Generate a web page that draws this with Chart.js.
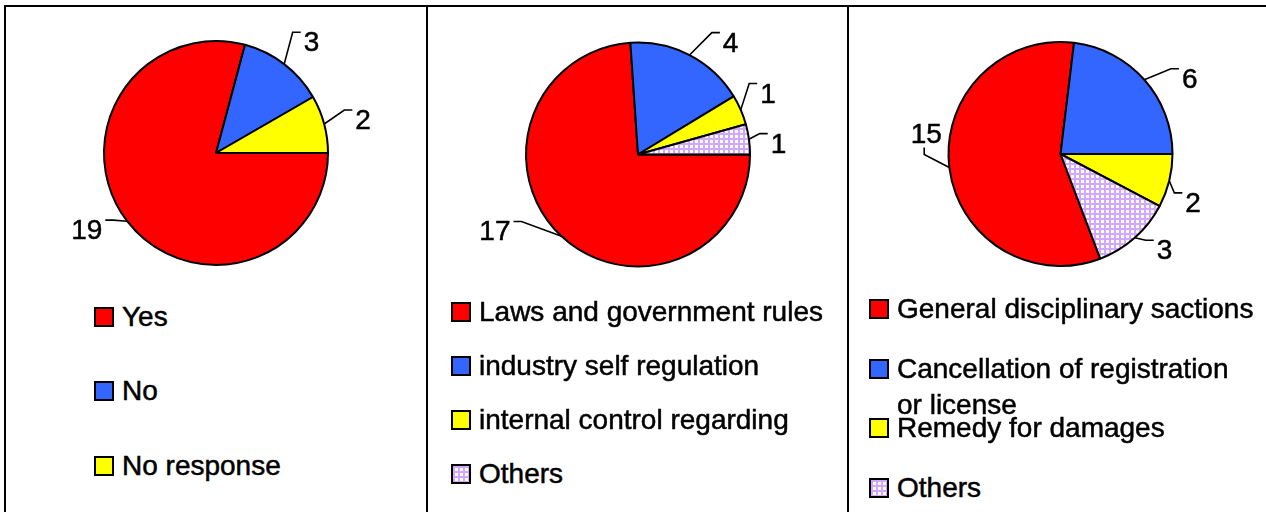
<!DOCTYPE html>
<html>
<head>
<meta charset="utf-8">
<script src="https://cdn.jsdelivr.net/npm/chart.js@4"></script>
<style>
body{margin:0;background:#fff;width:1266px;height:512px;overflow:hidden;position:relative;font-family:"Liberation Sans",Arial,sans-serif;}
.line{position:absolute;background:#000;}
.pie{position:absolute;}
.leg{position:absolute;font-size:28px;line-height:36px;color:#000;}
.leg .box{position:absolute;left:0;top:8px;width:20px;height:20px;box-sizing:border-box;border:2px solid #000;}
.leg .txt{position:absolute;left:28px;top:0;white-space:nowrap;-webkit-text-stroke:0.5px #000;}
</style>
</head>
<body>
<div class="line" style="left:4px;top:5px;width:1262px;height:2px"></div>
<div class="line" style="left:4px;top:5px;width:2px;height:507px"></div>
<div class="line" style="left:426px;top:5px;width:2px;height:507px"></div>
<div class="line" style="left:847px;top:5px;width:2px;height:507px"></div>
<div class="pie" style="left:6px;top:8px;width:420px;height:290px"><canvas id="c1"></canvas></div>
<div class="pie" style="left:428px;top:8px;width:419px;height:290px"><canvas id="c2"></canvas></div>
<div class="pie" style="left:849px;top:8px;width:417px;height:290px"><canvas id="c3"></canvas></div>
<script>
// dados
const labels1 = ['Yes', 'No', 'No response'];
const values1 = [19, 3, 2];

const labels2 = ['Laws and government rules', 'industry self regulation', 'internal control regarding', 'Others'];
const values2 = [17, 4, 1, 1];

const labels3 = ['General disciplinary sactions', 'Cancellation of registration or license', 'Remedy for damages', 'Others'];
const values3 = [15, 6, 2, 3];

// textura quadriculada para "Others"
const patCanvas = document.createElement('canvas');
patCanvas.width = 5; patCanvas.height = 5;
const pctx = patCanvas.getContext('2d');
pctx.fillStyle = '#ffffff'; pctx.fillRect(0, 0, 5, 5);
pctx.fillStyle = '#d2a8ff';
pctx.fillRect(0, 0, 5, 2);
pctx.fillRect(0, 0, 2, 5);
const hatch = pctx.createPattern(patCanvas, 'repeat');

const fills = ['#ff0000', '#3366ff', '#ffff00', hatch];
const cssFills = ['#ff0000', '#3366ff', '#ffff00',
  'linear-gradient(#d2a8ff 2px, transparent 2px) 0 0/5px 5px, linear-gradient(90deg, #d2a8ff 2px, transparent 2px) 0 0/5px 5px, #fff'];

// rótulos com linha de chamada
const leaderLabels = {
  id: 'leaderLabels',
  afterDatasetsDraw(chart, args, opts) {
    const ctx = chart.ctx;
    const meta = chart.getDatasetMeta(0);
    const vals = chart.data.datasets[0].data;
    ctx.save();
    ctx.font = '28px "Liberation Sans", Arial, sans-serif';
    ctx.fillStyle = '#000';
    ctx.strokeStyle = '#000';
    meta.data.forEach((arc, i) => {
      const p = arc.getProps(['x', 'y', 'startAngle', 'endAngle', 'outerRadius'], true);
      const mid = (p.startAngle + p.endAngle) / 2;
      const adj = (opts.adjust && opts.adjust[i]) || [0, 0];
      const la = mid + adj[0] * Math.PI / 180;
      const d = p.outerRadius + opts.gap + adj[1];
      const text = String(vals[i]);
      const w = ctx.measureText(text).width;
      const h = 20;
      const tx = p.x + Math.cos(la) * d, ty = p.y + Math.sin(la) * d;
      const left = tx - w / 2, top = ty - h / 2;
      const ax = p.x + Math.cos(mid) * p.outerRadius, ay = p.y + Math.sin(mid) * p.outerRadius;
      let ex, ey, sx, sy;
      if (opts.below && opts.below.includes(i)) {
        sx = tx - 2; sy = top + h + 5; ex = sx; ey = sy + 7;
      } else if (Math.cos(la) >= 0) {
        sx = left - 3; sy = top + 1; ex = sx - 8; ey = sy;
      } else {
        sx = left + w + 3; sy = top + 1; ex = sx + 8; ey = sy;
      }
      ctx.lineWidth = 1.6;
      ctx.beginPath();
      ctx.moveTo(ax, ay);
      ctx.lineTo(ex, ey);
      ctx.lineTo(sx, sy);
      ctx.stroke();
      ctx.textAlign = 'left';
      ctx.textBaseline = 'alphabetic';
      ctx.fillText(text, left, top + h);
      ctx.lineWidth = 0.5;
      ctx.strokeText(text, left, top + h);
    });
    ctx.restore();
  }
};

function makePie(id, labels, values, rotation, box, labelOpts) {
  // box: [x0, y0, largura, altura, cx, cy]
  const r = 112;
  const size = 2 * r + 2;
  const left = box[4] - box[0] - size / 2;
  const top = box[5] - box[1] - size / 2;
  new Chart(document.getElementById(id), {
    type: 'pie',
    data: {
      labels: labels,
      datasets: [{
        data: values,
        backgroundColor: fills.slice(0, values.length),
        borderColor: '#000',
        borderWidth: 2
      }]
    },
    options: {
      responsive: true,
      maintainAspectRatio: false,
      animation: false,
      rotation: rotation,
      layout: { padding: { left: left, top: top, right: box[2] - left - size, bottom: box[3] - top - size } },
      plugins: {
        legend: { display: false },
        tooltip: { enabled: false },
        leaderLabels: labelOpts
      }
    },
    plugins: [leaderLabels]
  });
}

function makeLegend(x, y0, step, labels, maxW) {
  labels.forEach((lab, i) => {
    const item = document.createElement('div');
    item.className = 'leg';
    item.style.left = x + 'px';
    item.style.top = (y0 + i * step - 18) + 'px';
    const b = document.createElement('div');
    b.className = 'box';
    b.style.background = cssFills[i];
    const t = document.createElement('div');
    t.className = 'txt';
    t.textContent = lab;
    if (maxW) { t.style.whiteSpace = 'normal'; t.style.width = maxW + 'px'; }
    item.appendChild(b);
    item.appendChild(t);
    document.body.appendChild(item);
  });
}

const sum3 = values3.reduce((a, b) => a + b, 0);
const rot3 = 90 - (values3[0] + values3[1]) / sum3 * 360 + 360;

window.onload = function () {
  makePie('c1', labels1, values1, 90, [6, 8, 420, 290, 216, 153],
    { gap: 35, adjust: { 0: [7, 3], 1: [3, 0], 2: [2, 4] } });
  makePie('c2', labels2, values2, 90, [428, 8, 419, 290, 638, 154.5],
    { gap: 34, adjust: { 0: [19, 16], 1: [12, 0], 2: [-2, -2], 3: [3, -5] } });
  makePie('c3', labels3, values3, rot3, [849, 8, 417, 290, 1060.5, 154],
    { gap: 34, adjust: { 0: [16, -10], 1: [11, 4], 2: [6, -5], 3: [-6, -5] }, below: [0] });
  makeLegend(94, 316.5, 74.5, labels1);
  makeLegend(451, 312, 54, labels2);
  makeLegend(869, 309, 59.5, labels3, 360);
};
</script>
</body>
</html>
